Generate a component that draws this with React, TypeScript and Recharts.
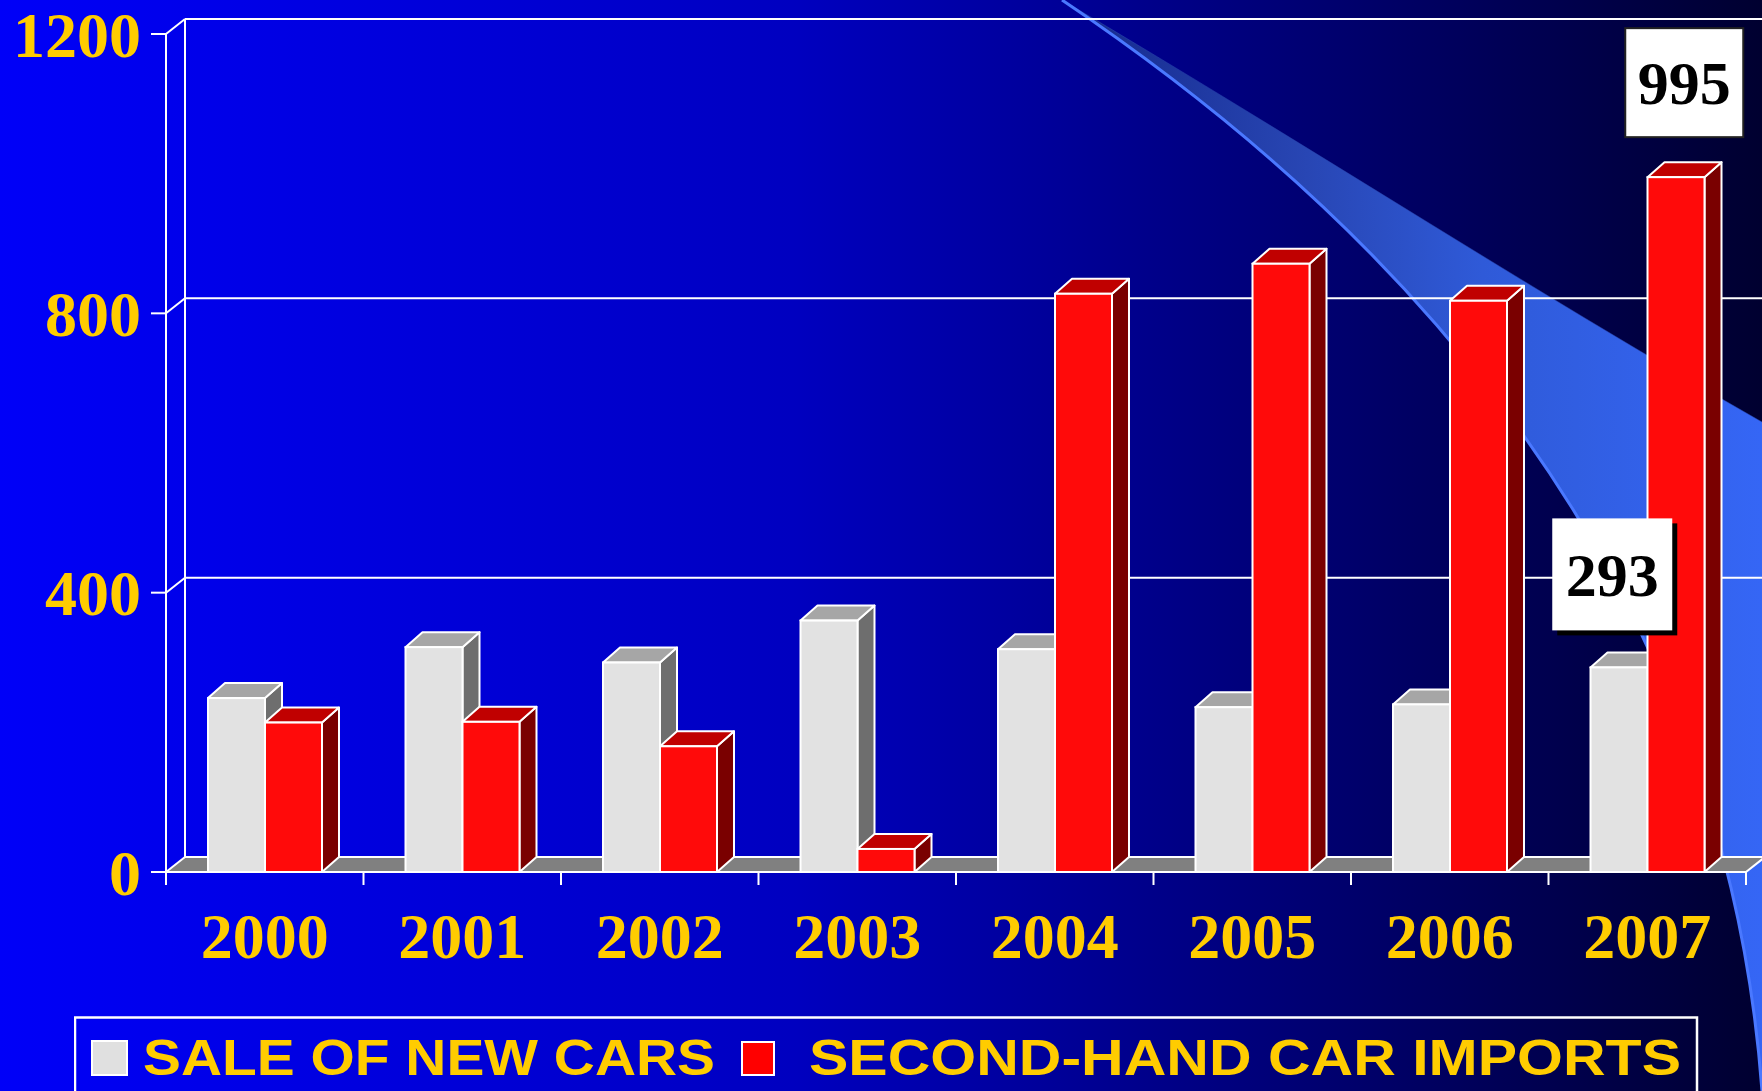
import React from 'react';
import { BarChart, Bar, XAxis, YAxis, Legend, ReferenceDot } from 'recharts';

// ---------- data ----------
const years = ['2000', '2001', '2002', '2003', '2004', '2005', '2006', '2007'];
const newCarSales = [249, 322, 300, 360, 319, 236, 240, 293];
const secondHandImports = [214, 215, 180, 33, 828, 871, 818, 995];
const yTicks = [0, 400, 800, 1200];
const NEW_NAME = 'SALE OF NEW CARS';
const IMPORT_NAME = 'SECOND-HAND CAR IMPORTS';

const chartData = years.map((year, i) => ({
  year,
  newCars: newCarSales[i],
  imports: secondHandImports[i],
}));

// ---------- layout ----------
const W = 1762;
const H = 1091;
const PLOT_L = 166;
const PLOT_T = 34;
const PLOT_R = 1746;
const PLOT_B = 872;
const Y_MAX = 1200;
const WALL_DX = 19;
const WALL_DY = 15;
const X_TICK_MARGIN = 41;

const SERIF = '"Liberation Serif", "Times New Roman", Times, serif';
const SANS = '"Liberation Sans", Arial, Helvetica, sans-serif';
const GOLD = '#FFCC00';

const yPix = (v: number) => PLOT_B - (v / Y_MAX) * (PLOT_B - PLOT_T);

// decorative swoosh (background ornament, not data)
const SWOOSH_UPPER = 'M1062,0 C1300,140 1530,290 1762,422';
const SWOOSH_LOWER = 'M1062,0 C1330,180 1720,520 1762,1091';
const SWOOSH_BAND = 'M1062,0 C1300,140 1530,290 1762,422 L1762,1091 C1720,520 1330,180 1062,0 Z';

function makeBarShape(front: string, top: string, side: string) {
  return (props: any) => {
    const { x, y, width, height } = props;
    if (![x, y, width, height].every((n) => Number.isFinite(n))) return <g />;
    const dx = 17;
    const dy = 15;
    const r = x + width;
    const b = y + height;
    return (
      <g>
        <polygon
          points={`${r},${y} ${r + dx},${y - dy} ${r + dx},${b - dy} ${r},${b}`}
          fill={side}
          stroke="#fff"
          strokeWidth={2}
          strokeLinejoin="round"
        />
        <polygon
          points={`${x},${y} ${x + dx},${y - dy} ${r + dx},${y - dy} ${r},${y}`}
          fill={top}
          stroke="#fff"
          strokeWidth={2}
          strokeLinejoin="round"
        />
        <rect x={x} y={y} width={width} height={height} fill={front} stroke="#fff" strokeWidth={2} />
      </g>
    );
  };
}

const grayShape = makeBarShape('#E2E2E2', '#A6A6A6', '#6E6E6E');
const redShape = makeBarShape('#FF0A0A', '#C00000', '#7A0000');

const XTick = (props: any) => {
  const { x, y, payload } = props;
  const half = payload && Number.isFinite(payload.offset) ? payload.offset : 0;
  const axisY = y - X_TICK_MARGIN;
  const isLast = payload && payload.value === years[years.length - 1];
  return (
    <g>
      <line x1={x - half} x2={x - half} y1={axisY} y2={axisY + 13} stroke="#fff" strokeWidth={2} />
      {isLast && <line x1={x + half} x2={x + half} y1={axisY} y2={axisY + 13} stroke="#fff" strokeWidth={2} />}
      <text
        x={x}
        y={y}
        dy="0.71em"
        textAnchor="middle"
        fill={GOLD}
        fontFamily={SERIF}
        fontWeight="bold"
        fontSize={64}
      >
        {payload ? payload.value : ''}
      </text>
    </g>
  );
};

const makeValueBox = (value: number, shiftX: number, gapY: number, w: number, h: number, shadow: boolean) =>
  (props: any) => {
    const vb = props.viewBox || {};
    const cx = (vb.x || 0) + (vb.width || 0) / 2;
    const cy = (vb.y || 0) + (vb.height || 0) / 2;
    const bx = cx + shiftX - w / 2;
    const by = cy - gapY - h;
    return (
      <g>
        {shadow && <rect x={bx + 5} y={by + 5} width={w} height={h} fill="#000" />}
        <rect
          x={bx}
          y={by}
          width={w}
          height={h}
          fill="#fff"
          stroke={shadow ? 'none' : '#222'}
          strokeWidth={2}
        />
        <text
          x={bx + w / 2}
          y={by + h / 2}
          dy="0.35em"
          textAnchor="middle"
          fontFamily={SERIF}
          fontWeight="bold"
          fontSize={62}
          fill="#000"
        >
          {value}
        </text>
      </g>
    );
  };

const LegendBox = (props: any) => {
  const payload = (props && props.payload) || [];
  const slots = [
    { sq: [18, 25, 35, 34], tx: 69, len: 572 },
    { sq: [668, 26, 32, 33], tx: 735, len: 872 },
  ];
  return (
    <svg width={1640} height={76} style={{ display: 'block' }}>
      <rect x={1} y={1.5} width={1622} height={140} fill="none" stroke="#fff" strokeWidth={2.5} />
      {payload.slice(0, 2).map((entry: any, i: number) => {
        const s = slots[i];
        return (
          <g key={i}>
            <rect
              x={s.sq[0]}
              y={s.sq[1]}
              width={s.sq[2]}
              height={s.sq[3]}
              fill={entry.color}
              stroke="#fff"
              strokeWidth={2}
            />
            <text
              x={s.tx}
              y={59}
              fill={GOLD}
              fontFamily={SANS}
              fontWeight="bold"
              fontSize={50}
              textLength={s.len}
              lengthAdjust="spacingAndGlyphs"
            >
              {entry.value}
            </text>
          </g>
        );
      })}
    </svg>
  );
};

const Background = () => (
  <svg width={W} height={H} style={{ position: 'absolute', left: 0, top: 0 }}>
    <defs>
      <linearGradient id="bgGrad" x1="0" y1="0" x2="1" y2="0">
        <stop offset="0" stopColor="#0000F8" />
        <stop offset="0.45" stopColor="#0000C0" />
        <stop offset="0.75" stopColor="#000070" />
        <stop offset="1" stopColor="#000030" />
      </linearGradient>
      <linearGradient id="swooshGrad" gradientUnits="userSpaceOnUse" x1="1062" y1="0" x2="1762" y2="0">
        <stop offset="0" stopColor="#14288a" />
        <stop offset="0.35" stopColor="#2846b4" />
        <stop offset="0.6" stopColor="#2f5ad8" />
        <stop offset="1" stopColor="#3566f5" />
      </linearGradient>
    </defs>
    <rect width={W} height={H} fill="url(#bgGrad)" />
    <path d={SWOOSH_BAND} fill="url(#swooshGrad)" />
    <path d={SWOOSH_UPPER} fill="none" stroke="#2a48b0" strokeWidth={1} opacity={0.5} />
    <path d={SWOOSH_LOWER} fill="none" stroke="#4a78ff" strokeWidth={3} />
    {/* floor */}
    <polygon
      points={`${PLOT_L},${PLOT_B} ${PLOT_L + WALL_DX},${PLOT_B - WALL_DY} ${PLOT_R + WALL_DX},${PLOT_B - WALL_DY} ${PLOT_R},${PLOT_B}`}
      fill="#808080"
    />
    {/* back wall */}
    <line
      x1={PLOT_L + WALL_DX}
      x2={PLOT_L + WALL_DX}
      y1={yPix(Y_MAX) - WALL_DY}
      y2={PLOT_B - WALL_DY}
      stroke="#fff"
      strokeWidth={2}
    />
    {yTicks.map((v) => (
      <g key={v}>
        <line
          x1={PLOT_L + WALL_DX}
          x2={W}
          y1={yPix(v) - WALL_DY}
          y2={yPix(v) - WALL_DY}
          stroke="#fff"
          strokeWidth={2}
        />
        <line
          x1={PLOT_L}
          y1={yPix(v)}
          x2={PLOT_L + WALL_DX}
          y2={yPix(v) - WALL_DY}
          stroke="#fff"
          strokeWidth={2}
        />
      </g>
    ))}
    <line x1={PLOT_R} y1={PLOT_B} x2={PLOT_R + WALL_DX} y2={PLOT_B - WALL_DY} stroke="#fff" strokeWidth={2} />
  </svg>
);

export default function App() {
  const last = years.length - 1;
  return (
    <div style={{ position: 'absolute', left: 0, top: 0, width: W, height: H, overflow: 'hidden' }}>
      <Background />
      <div style={{ position: 'absolute', left: 0, top: 0 }}>
        <BarChart
          width={W}
          height={H}
          data={chartData}
          margin={{ top: PLOT_T, right: W - PLOT_R, bottom: 0, left: 0 }}
          barGap={0}
          barSize={57}
        >
          <XAxis
            dataKey="year"
            height={H - PLOT_B}
            tickLine={false}
            tickSize={0}
            tickMargin={X_TICK_MARGIN}
            interval={0}
            axisLine={{ stroke: '#fff', strokeWidth: 2 }}
            tick={(p: any) => <XTick {...p} />}
          />
          <YAxis
            width={PLOT_L}
            domain={[0, Y_MAX]}
            ticks={yTicks}
            interval={0}
            tickSize={15}
            tickMargin={10}
            axisLine={{ stroke: '#fff', strokeWidth: 2 }}
            tickLine={{ stroke: '#fff', strokeWidth: 2 }}
            tick={{ fill: GOLD, fontSize: 64, fontWeight: 'bold', fontFamily: SERIF }}
          />
          <Legend
            layout="horizontal"
            verticalAlign="middle"
            align="center"
            wrapperStyle={{ left: 74, top: 1016, width: 1640, height: 76, overflow: 'hidden' }}
            content={(p: any) => <LegendBox {...p} />}
          />
          <Bar
            dataKey="newCars"
            name={NEW_NAME}
            fill="#E0E0E0"
            shape={grayShape}
            isAnimationActive={false}
          />
          <Bar
            dataKey="imports"
            name={IMPORT_NAME}
            fill="#FF0000"
            shape={redShape}
            isAnimationActive={false}
          />
          <ReferenceDot
            x={years[last]}
            y={secondHandImports[last]}
            r={0}
            fill="none"
            stroke="none"
            label={makeValueBox(secondHandImports[last], 37, 40, 118, 109, false)}
          />
          <ReferenceDot
            x={years[last]}
            y={newCarSales[last]}
            r={0}
            fill="none"
            stroke="none"
            label={makeValueBox(newCarSales[last], -35, 37, 120, 112, true)}
          />
        </BarChart>
      </div>
    </div>
  );
}
